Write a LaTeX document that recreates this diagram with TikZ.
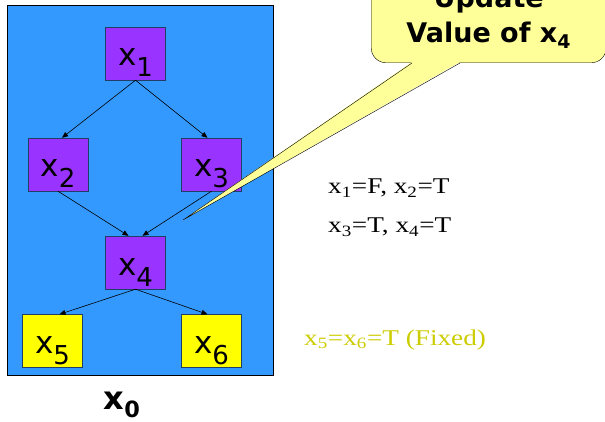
\documentclass[tikz,border=0pt]{standalone}
\usepackage{fontspec}
\usepackage{xcolor}
\usepackage{graphicx}
\usepackage{tikz}
\usetikzlibrary{positioning,arrows.meta,calc}
\newfontfamily\vsans{DejaVu Sans}
\newfontfamily\tms{Liberation Serif}
\definecolor{panelblue}{HTML}{3399FF}
\definecolor{varpurple}{HTML}{9933FF}
\definecolor{fixyellow}{HTML}{FFFF00}
\definecolor{notefill}{HTML}{FFFF99}
\definecolor{fixtext}{HTML}{CCCC00}
\definecolor{boxedge}{HTML}{1F3F66}
% variable label: x with a low index, baseline put below the box centre
\newcommand{\xv}[1]{\smash{\raisebox{-12.5pt}{x\raisebox{-11pt}{\fontsize{26}{26}\selectfont #1}}}}
\newcommand{\wide}[1]{\scalebox{1.21}[1]{#1}}

\begin{document}
\begin{tikzpicture}[
  x=1pt, y=-1pt,
  font=\vsans\fontsize{31}{31}\selectfont,
  var/.style={draw=boxedge, fill=varpurple, minimum width=60pt, minimum height=53pt, inner sep=0pt},
  fixed/.style={var, fill=fixyellow},
  arr/.style={-{Triangle[length=6pt,width=5pt]}, line width=0.6pt},
  bubble/.style={draw, fill=notefill, rounded corners=15pt, minimum width=235pt, minimum height=90pt, align=center,
    font=\vsans\bfseries\fontsize{27}{35}\selectfont},
  val/.style={font=\tms\fontsize{22.5}{22.5}\selectfont, inner sep=0pt},
]
\useasboundingbox (0,0) rectangle (605,422);
\clip (0,0) rectangle (605,422);
% panel with the graph
\node[draw, line width=1pt, fill=panelblue, minimum width=266pt, minimum height=370pt, anchor=north west] (panel) at (7,5) {};
\node[var] (x1) at (135.5,53.5) {\xv{1}};
\node[var] (x2) at (58,164.5) {\xv{2}};
\node[var] (x3) at (211.5,164.5) {\xv{3}};
\node[var] (x4) at (135.5,262.5) {\xv{4}};
\node[fixed] (x5) at (52.5,341) {\xv{5}};
\node[fixed] (x6) at (211.5,341) {\xv{6}};
\node[font=\vsans\bfseries\fontsize{32}{32}\selectfont] (x0) at (122,405) {x\textsubscript{0}};
\draw[arr] (x1.south) -- ([xshift=4pt]x2.north);
\draw[arr] (x1.south) -- ([xshift=-4pt]x3.north);
\draw[arr] (x2.south) -- ([xshift=-7pt]x4.north);
\draw[arr] (x3.south) -- ([xshift=7pt]x4.north);
\draw[arr] (x4.south) -- ([xshift=7pt]x5.north);
\draw[arr] (x4.south) -- ([xshift=-4pt]x6.north);
% values
\node[val, anchor=base west] (v1) at (328,194) {\wide{x\textsubscript{1}=F, x\textsubscript{2}=T}};
\node[val, anchor=base west] (v2) at (328,233) {\wide{x\textsubscript{3}=T, x\textsubscript{4}=T}};
\node[val, text=fixtext, anchor=base west] (v3) at (304,345) {\wide{x\textsubscript{5}=x\textsubscript{6}=T (Fixed)}};
% callout
\node[bubble, anchor=south west] (upd) at (371,63) {Update\\Value of x\textsubscript{4}};
\coordinate (tip) at (183,220);
\fill[notefill] ([xshift=41pt,yshift=1pt]upd.south west) -- (tip) -- ([xshift=89pt,yshift=1pt]upd.south west) -- cycle;
\draw ([xshift=41pt]upd.south west) -- (tip) -- ([xshift=89pt]upd.south west);
\end{tikzpicture}
\end{document}
